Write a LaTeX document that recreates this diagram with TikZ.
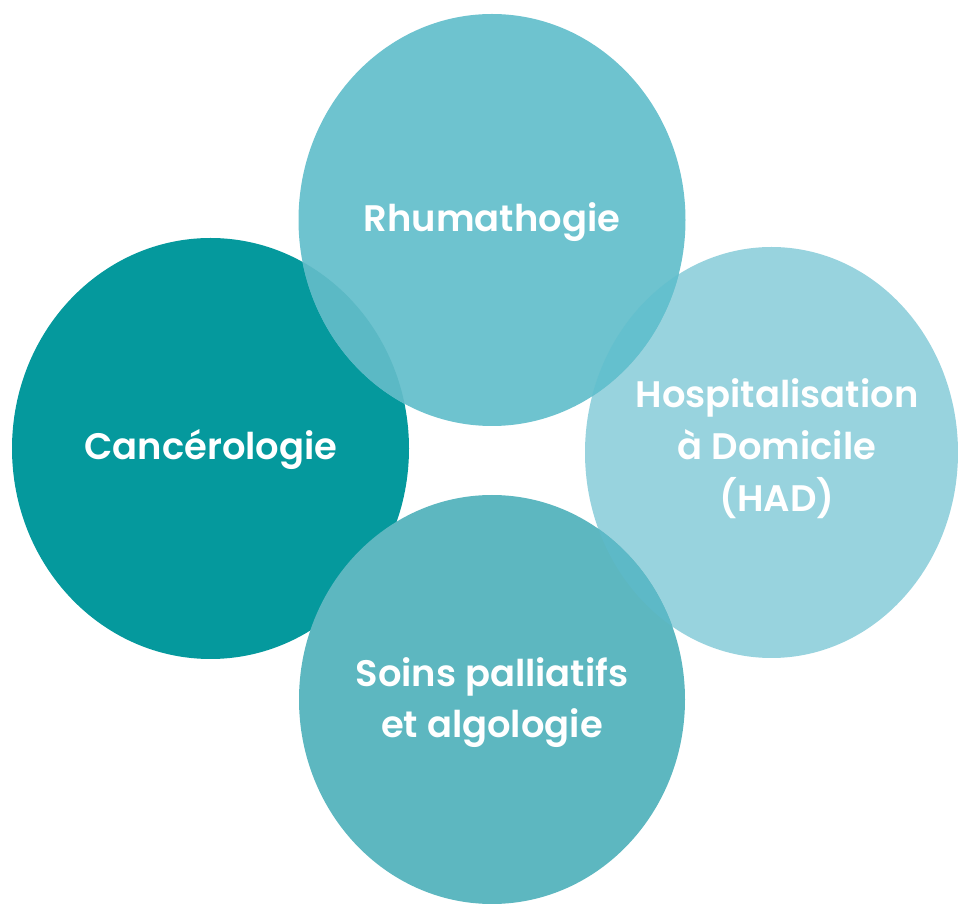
\documentclass[tikz,border=0pt]{standalone}
\usepackage{fontspec}
\setmainfont{Poppins}[UprightFont=* SemiBold, BoldFont=* Bold]
\usetikzlibrary{positioning,calc}

\definecolor{cancerteal}{HTML}{05999D}
\definecolor{rhumablue}{HTML}{6EC3CF}
\definecolor{hadblue}{HTML}{98D3DE}
\definecolor{soinsblue}{HTML}{5DB7C0}
\definecolor{lensTL}{HTML}{5BB9C5}
\definecolor{lensTR}{HTML}{64C0CE}
\definecolor{lensBR}{HTML}{5DB9C7}

\tikzset{
  bubtext/.style={text=white, inner sep=0, align=center,
    font=\fontsize{21}{29.5}\selectfont},
}

\begin{document}
\begin{tikzpicture}

\useasboundingbox (0, 0) rectangle (19.16, -18.08);

\coordinate (L) at (4.21, -8.97);
\coordinate (R) at (15.43, -9.05);
\coordinate (T) at (9.84, -4.40);
\coordinate (B) at (9.84, -13.99);

\fill[cancerteal] (L) ellipse [x radius=3.97cm, y radius=4.21cm];
\fill[hadblue] (R) ellipse [x radius=3.73cm, y radius=4.11cm];
\fill[rhumablue] (T) ellipse [x radius=3.87cm, y radius=4.12cm];

% overlaps of the top circle
\begin{scope}
  \clip (T) ellipse [x radius=3.87cm, y radius=4.12cm];
  \fill[lensTL] (L) ellipse [x radius=3.97cm, y radius=4.21cm];
  \fill[lensTR] (R) ellipse [x radius=3.73cm, y radius=4.11cm];
\end{scope}

\fill[soinsblue] (B) ellipse [x radius=3.86cm, y radius=4.09cm];
\begin{scope}
  \clip (B) ellipse [x radius=3.86cm, y radius=4.09cm];
  \fill[lensBR] (R) ellipse [x radius=3.73cm, y radius=4.11cm];
\end{scope}

\node[bubtext, anchor=base] (rhumato) at (9.84, -4.64) {Rhumathogie};
\node[bubtext, anchor=base] (cancero) at (4.22, -9.20) {Cancérologie};
\node[bubtext] (had) at (15.54, -8.98) {Hospitalisation\\à Domicile\\(HAD)};
\node[bubtext] (soins) at (9.84, -14.05) {Soins palliatifs\\et algologie};

\end{tikzpicture}
\end{document}
